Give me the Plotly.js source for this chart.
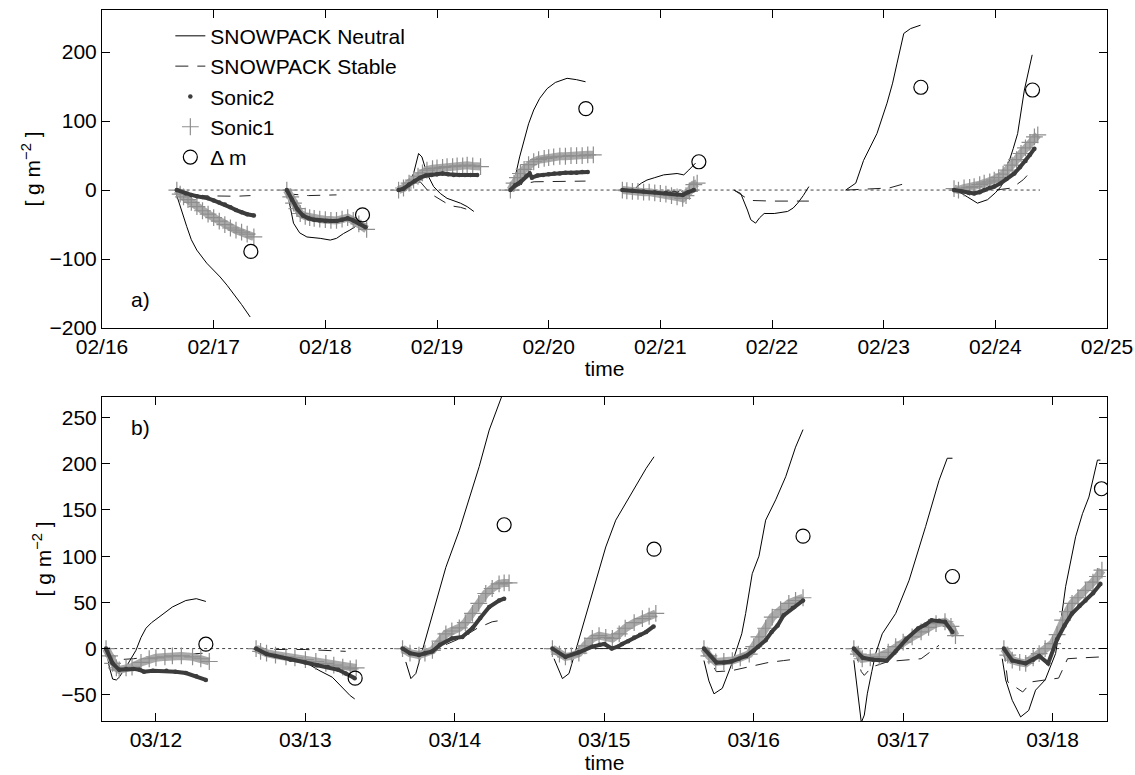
<!DOCTYPE html>
<html>
<head>
<meta charset="utf-8">
<script src="https://cdn.plot.ly/plotly-3.0.1.min.js"></script>
<style>body{margin:0;background:#fff}#chart{width:1135px;height:775px}</style>
</head>
<body>
<div id="chart"></div>
<script>
// ---------- Panel a) February (x = day of month) ----------
const ticksA = [16,17,18,19,20,21,22,23,24,25];
const tickLabelsA = ['02/16','02/17','02/18','02/19','02/20','02/21','02/22','02/23','02/24','02/25'];
const yTicksA = [-200,-100,0,100,200];

const neutralA = [
 [[16.654,0],[16.699,-24],[16.759,-53],[16.80,-72],[16.849,-87],[16.938,-106],[17.0,-116],[17.058,-126],[17.12,-138],[17.177,-150],[17.25,-166],[17.327,-184]],
 [[17.655,0],[17.685,-25],[17.715,-48],[17.77,-62],[17.835,-68],[17.954,-70],[18.044,-72.5],[18.10,-70],[18.163,-63],[18.22,-58],[18.268,-53],[18.31,-47]],
 [[18.64,0],[18.73,5],[18.79,24],[18.835,53],[18.865,48],[18.91,24],[18.97,5],[19.03,-5],[19.09,-12],[19.15,-15],[19.21,-19],[19.27,-24],[19.33,-31]],
 [[19.657,0],[19.70,19],[19.74,48],[19.777,72],[19.82,96],[19.866,116],[19.92,133],[19.986,147],[20.06,156],[20.165,162],[20.25,160],[20.33,157]],
 [[20.77,0],[20.79,5],[20.83,10],[20.88,14.5],[20.95,18],[21.03,22],[21.15,24],[21.21,22],[21.255,29],[21.315,39]],
 [[21.659,0],[21.72,-5],[21.78,-29],[21.81,-43],[21.853,-48],[21.89,-40],[21.93,-34],[22.02,-34],[22.14,-31],[22.19,-26],[22.23,-19],[22.28,-8],[22.33,5]],
 [[22.66,0],[22.75,10],[22.82,43],[22.88,62],[22.94,82],[23.03,126],[23.08,155],[23.12,184],[23.16,212],[23.18,227],[23.24,234],[23.33,239]],
 [[23.616,0],[23.68,-3],[23.75,-10],[23.84,-19],[23.93,-14],[24.0,-4],[24.05,5],[24.11,34],[24.16,60],[24.20,82],[24.26,145],[24.33,196]]
];
const stableA = [
 [[16.654,0],[16.70,-6],[16.80,-8],[17.0,-9],[17.2,-9],[17.33,-8]],
 [[17.655,0],[17.70,-6],[17.85,-8],[18.0,-8],[18.1,-7]],
 [[18.65,0],[18.78,8],[18.85,12],[18.94,-5],[19.03,-14.5],[19.12,-22.7],[19.21,-25],[19.33,-31]],
 [[19.657,0],[19.75,8],[19.87,12],[20.0,12],[20.15,12.5],[20.33,13]],
 [[20.66,0],[20.9,-1],[21.15,-2],[21.33,0]],
 [[21.66,0],[21.72,-6],[21.80,-15],[22.0,-16],[22.2,-16],[22.33,-16]],
 [[22.66,0],[22.91,2],[23.05,3],[23.18,9]],
 [[23.62,0],[23.8,-2],[23.95,-1],[24.05,1],[24.15,3],[24.25,15],[24.33,29]]
];
const sonic1A = [
 [[16.67,0],[16.70,-6],[16.73,-10],[16.77,-14],[16.80,-18],[16.85,-24],[16.90,-30],[16.95,-35],[17.0,-40],[17.05,-45],[17.10,-50],[17.15,-55],[17.20,-58],[17.25,-61],[17.30,-64],[17.36,-68]],
 [[17.655,0],[17.69,-10],[17.715,-19],[17.745,-27],[17.775,-34],[17.82,-38],[17.86,-40],[17.90,-41],[17.95,-42],[18.0,-43],[18.05,-44],[18.10,-44],[18.15,-42],[18.20,-40],[18.25,-44],[18.30,-49],[18.37,-57]],
 [[18.656,0],[18.70,3],[18.75,10],[18.79,14.5],[18.83,20],[18.87,25],[18.91,29],[18.96,31],[19.0,32],[19.05,33],[19.09,34],[19.14,34],[19.18,35],[19.23,35],[19.27,36],[19.32,35],[19.39,34]],
 [[19.657,0],[19.69,10],[19.72,18],[19.747,24],[19.78,30],[19.82,37],[19.866,41],[19.91,44],[19.96,46],[20.0,47],[20.045,48],[20.10,49],[20.15,49],[20.20,50],[20.25,50],[20.30,50],[20.35,51],[20.40,51]],
 [[20.66,0],[20.70,-1],[20.75,-2],[20.80,-2],[20.85,-3],[20.90,-3],[20.95,-4],[21.0,-5],[21.05,-6],[21.10,-8],[21.15,-10],[21.20,-12],[21.23,-8],[21.26,-2],[21.30,8],[21.33,10]],
 [[23.63,2],[23.67,0],[23.72,3],[23.77,4],[23.81,5],[23.86,8],[23.90,10],[23.95,12],[23.99,14.5],[24.03,18],[24.07,23],[24.11,29],[24.15,36],[24.19,44],[24.23,53],[24.27,61],[24.31,69],[24.35,77],[24.38,80]]
];
const sonic2A = [
 [[16.67,0],[16.75,-5],[16.80,-7],[16.85,-9],[16.90,-10],[16.95,-12],[17.0,-15],[17.05,-18],[17.10,-21],[17.15,-25],[17.20,-29],[17.25,-32],[17.30,-35],[17.36,-37]],
 [[17.655,0],[17.70,-14],[17.75,-28],[17.80,-37],[17.85,-41],[17.90,-43],[17.95,-44],[18.0,-45],[18.05,-45],[18.10,-45],[18.15,-43],[18.20,-41],[18.25,-44],[18.30,-48],[18.36,-54]],
 [[18.656,0],[18.70,2],[18.75,8],[18.80,13],[18.85,18],[18.90,21],[18.95,22],[19.0,23],[19.05,24],[19.10,23],[19.15,22],[19.20,22],[19.25,22],[19.30,22],[19.36,22]],
 [[19.657,0],[19.70,7],[19.75,12],[19.80,20],[19.83,24],[19.85,18],[19.90,21],[19.95,22],[20.0,23],[20.05,24],[20.10,24],[20.15,25],[20.20,25],[20.25,25],[20.30,26],[20.35,26]],
 [[20.66,0],[20.75,-1],[20.85,-2],[20.95,-3],[21.05,-4],[21.15,-6],[21.20,-7],[21.25,-3],[21.30,0]],
 [[23.63,0],[23.70,-2],[23.76,-4],[23.81,-5],[23.86,-3],[23.90,0],[23.95,3],[23.99,5],[24.05,10],[24.10,16],[24.17,24],[24.22,33],[24.27,42],[24.31,51],[24.35,60]]
];
const deltaA_x = [17.333,18.333,20.333,21.345,23.333,24.333];
const deltaA_y = [-89,-36,118,41,149,145];
const zeroA = [16.65,24.4];

// ---------- Panel b) March ----------
const ticksB = [12,13,14,15,16,17,18];
const tickLabelsB = ['03/12','03/13','03/14','03/15','03/16','03/17','03/18'];
const yTicksB = [-50,0,50,100,150,200,250];

const neutralB = [
 [[11.666,0],[11.688,-20],[11.71,-33],[11.735,-34],[11.754,-31],[11.80,-20],[11.866,-2],[11.90,12],[11.933,22],[11.97,28],[12.02,34],[12.11,45],[12.20,52],[12.27,54],[12.334,51]],
 [[12.646,0],[12.736,-4],[12.87,-9.4],[13.0,-14.8],[13.09,-23.5],[13.18,-31],[13.248,-42],[13.30,-51],[13.33,-54.5]],
 [[13.672,-14.5],[13.706,-32.5],[13.739,-27],[13.783,-2],[13.85,38],[13.94,88],[14.03,128],[14.096,161],[14.163,197],[14.23,236.5],[14.296,265],[14.33,280]],
 [[14.664,-11],[14.72,-32.5],[14.764,-27],[14.83,9],[14.92,59.6],[15.01,110],[15.077,139],[15.144,157],[15.19,170],[15.233,182],[15.28,195],[15.333,207.6]],
 [[15.667,-13],[15.70,-35],[15.734,-49],[15.79,-43],[15.857,-15],[15.92,16],[15.946,38],[15.99,81],[16.035,100],[16.08,139],[16.147,161],[16.214,186],[16.28,218],[16.33,237]],
 [[16.67,-12.7],[16.70,-56],[16.72,-80],[16.74,-72],[16.76,-49],[16.79,-25],[16.816,-5.4],[16.86,16],[16.95,38],[17.04,74],[17.10,105],[17.15,132],[17.24,182],[17.295,206],[17.33,206]],
 [[17.663,-11],[17.686,-34],[17.73,-56],[17.786,-74],[17.84,-67],[17.886,-45],[17.95,-34],[18.02,-5.4],[18.06,35],[18.087,67],[18.154,121],[18.20,146],[18.243,164],[18.30,204],[18.32,204]]
];
const stableB = [
 [[11.666,0],[11.75,-12],[11.85,-11],[12.0,-8],[12.2,-6],[12.33,-5]],
 [[12.646,0],[12.80,-1],[13.0,-1],[13.15,-2],[13.27,-3]],
 [[13.672,0],[13.75,-7],[13.85,-3],[13.95,5],[14.05,12],[14.15,22],[14.25,29],[14.33,31]],
 [[14.664,0],[14.74,-8],[14.85,-4],[14.95,0],[15.10,0],[15.25,0]],
 [[15.667,0],[15.72,-15],[15.75,-25],[15.85,-24],[15.97,-20],[16.10,-15],[16.20,-13],[16.30,-11]],
 [[16.67,0],[16.72,-25],[16.74,-29],[16.79,-20],[16.90,-14],[17.017,-12.7],[17.12,-11],[17.195,-2],[17.24,3.6]],
 [[17.674,0],[17.70,-36],[17.80,-47],[17.83,-42],[17.86,-36],[17.95,-34],[18.04,-32],[18.075,-20],[18.10,-11],[18.20,-10],[18.33,-9]]
];
const sonic1B = [
 [[11.666,0],[11.69,-8],[11.71,-16],[11.735,-21],[11.754,-23],[11.80,-21],[11.84,-20],[11.90,-15],[11.955,-11],[12.0,-10],[12.06,-9],[12.11,-8],[12.17,-8],[12.245,-9],[12.30,-11],[12.357,-14]],
 [[12.67,0],[12.70,-3],[12.74,-5],[12.80,-7],[12.87,-9],[12.93,-10],[13.0,-12],[13.07,-14],[13.137,-16],[13.19,-18],[13.25,-20],[13.30,-22],[13.34,-21]],
 [[13.65,0],[13.70,-5],[13.76,-7],[13.80,-5],[13.85,-2],[13.90,8],[13.94,16],[13.98,19],[14.03,22.5],[14.07,28],[14.118,38],[14.16,49],[14.207,59.6],[14.25,65],[14.296,70],[14.33,71],[14.363,71]],
 [[14.653,0],[14.70,-6],[14.74,-9],[14.78,-8],[14.83,-5],[14.87,3],[14.92,11],[14.965,14],[15.01,12],[15.054,11],[15.10,16],[15.14,22],[15.20,28],[15.255,32.5],[15.30,35],[15.345,38]],
 [[15.667,0],[15.70,-8],[15.746,-14.5],[15.80,-14],[15.857,-13],[15.91,-10],[15.97,-6],[16.0,2],[16.035,12.6],[16.08,22],[16.124,34],[16.18,42],[16.235,49],[16.28,52],[16.33,55]],
 [[16.67,0],[16.70,-6],[16.726,-11],[16.78,-10],[16.84,-9],[16.90,-4],[16.95,2],[17.0,7],[17.06,12.6],[17.12,18],[17.17,23],[17.22,27],[17.28,29],[17.32,24],[17.35,14]],
 [[17.674,0],[17.70,-7],[17.73,-12.6],[17.78,-15],[17.82,-16],[17.87,-10],[17.91,-5.4],[17.95,0],[18.0,5.4],[18.03,15],[18.067,30.7],[18.10,40],[18.13,49],[18.17,55],[18.22,63],[18.27,72],[18.30,78],[18.33,85]]
];
const sonic2B = [
 [[11.666,0],[11.71,-16],[11.754,-23],[11.80,-22],[11.85,-22],[11.89,-23],[11.92,-25],[11.98,-24],[12.07,-24],[12.13,-25],[12.20,-26.5],[12.27,-30],[12.334,-34]],
 [[12.67,0],[12.74,-6],[12.80,-8],[12.90,-12],[13.0,-15],[13.08,-18],[13.15,-20],[13.22,-23],[13.27,-27],[13.33,-32]],
 [[13.65,0],[13.70,-5],[13.76,-7],[13.80,-5],[13.85,-3],[13.90,4],[13.98,11],[14.05,12.6],[14.085,17],[14.12,22.5],[14.17,33],[14.23,45],[14.296,52],[14.33,54]],
 [[14.653,0],[14.74,-9],[14.83,-4],[14.92,2],[14.97,4],[15.0,5],[15.05,0],[15.09,2],[15.12,5],[15.16,8],[15.20,12],[15.24,15],[15.28,18],[15.33,24]],
 [[15.667,0],[15.75,-15],[15.80,-15],[15.85,-14],[15.90,-11],[15.95,-8],[16.0,-2],[16.03,2],[16.08,9],[16.12,18],[16.16,25],[16.20,36],[16.26,44],[16.33,52]],
 [[16.67,0],[16.73,-10],[16.80,-12],[16.89,-13],[16.95,-3],[17.02,10],[17.1,21.7],[17.15,26],[17.19,30.7],[17.24,30],[17.28,29],[17.33,18]],
 [[17.674,0],[17.73,-13],[17.82,-16],[17.87,-12],[17.91,-8],[17.97,-16],[18.03,10],[18.08,25],[18.13,38],[18.18,46],[18.22,52],[18.27,60],[18.32,70]]
];
const deltaB_x = [12.334,13.333,14.33,15.333,16.33,17.33,18.327];
const deltaB_y = [4.7,-32,134,107.6,121.7,78,173];
const zeroB = [11.64,18.33];

// ---------- helpers ----------
function flat(segs){
  const x=[],y=[];
  segs.forEach((s,i)=>{ if(i>0){x.push(null);y.push(null);} s.forEach(p=>{x.push(p[0]);y.push(p[1]);}); });
  return {x,y};
}
const FONT = 'Liberation Sans, Arial, Helvetica, sans-serif';
const FS = 21;
const DARK = '#3c3c3c';

function panelTraces(xa, ya, neutral, stable, s1, s2, dx, dy, legend){
  const n=flat(neutral), st=flat(stable), a=flat(s1), b=flat(s2);
  return [
    {x:n.x,y:n.y,xaxis:xa,yaxis:ya,mode:'lines',name:'SNOWPACK Neutral',line:{color:'#000',width:1},showlegend:legend,legendrank:1,legendgroup:'g1'},
    {x:st.x,y:st.y,xaxis:xa,yaxis:ya,mode:'lines',name:'SNOWPACK Stable',line:{color:'#222',width:1,dash:'13px,9px'},showlegend:legend,legendrank:2,legendgroup:'g2'},
    {x:a.x,y:a.y,xaxis:xa,yaxis:ya,mode:'lines',line:{color:'#aaaaaa',width:8},showlegend:false,hoverinfo:'skip'},
    {x:a.x,y:a.y,xaxis:xa,yaxis:ya,mode:'markers',name:'Sonic1',marker:{symbol:'cross-thin-open',size:12,color:'#8e8e8e',line:{width:1.2,color:'#8e8e8e'}},showlegend:legend,legendrank:4,legendgroup:'g4'},
    {x:b.x,y:b.y,xaxis:xa,yaxis:ya,mode:'lines',line:{color:DARK,width:4},showlegend:false,hoverinfo:'skip'},
    {x:b.x,y:b.y,xaxis:xa,yaxis:ya,mode:'markers',name:'Sonic2',marker:{symbol:'circle',size:4.5,color:DARK},showlegend:legend,legendrank:3,legendgroup:'g3'},
    {x:dx,y:dy,xaxis:xa,yaxis:ya,mode:'markers',name:'\u0394 m',marker:{symbol:'circle-open',size:14,color:'#000',line:{width:1.2,color:'#000'}},showlegend:legend,legendrank:5,legendgroup:'g5'}
  ];
}

const data = [].concat(
  panelTraces('x','y',neutralA,stableA,sonic1A,sonic2A,deltaA_x,deltaA_y,true),
  panelTraces('x2','y2',neutralB,stableB,sonic1B,sonic2B,deltaB_x,deltaB_y,false)
);

const axCommon = {showline:true,linecolor:'#000',linewidth:1,mirror:'ticks',ticks:'inside',ticklen:8,tickcolor:'#000',showgrid:false,zeroline:false,tickfont:{family:FONT,size:FS,color:'#000'}};
const yTitle = {text:'[ g m<sup>\u22122</sup> ]',font:{family:FONT,size:FS,color:'#000'},standoff:3};
const xTitle = {text:'time',font:{family:FONT,size:FS,color:'#000'},standoff:4};

const layout = {
  width:1135,height:775,
  margin:{l:102,r:28,t:10,b:54},
  paper_bgcolor:'#fff',plot_bgcolor:'#fff',
  font:{family:FONT,size:FS,color:'#000'},
  xaxis:Object.assign({},axCommon,{domain:[0,1],anchor:'y',range:[16,25],tickmode:'array',tickvals:ticksA,ticktext:tickLabelsA,title:xTitle}),
  yaxis:Object.assign({},axCommon,{domain:[0.5527,1],anchor:'x',range:[-200,261],tickmode:'array',tickvals:yTicksA,title:yTitle}),
  xaxis2:Object.assign({},axCommon,{domain:[0,1],anchor:'y2',range:[11.639,18.364],tickmode:'array',tickvals:ticksB,ticktext:tickLabelsB,title:xTitle}),
  yaxis2:Object.assign({},axCommon,{domain:[0,0.4561],anchor:'x2',range:[-78.4,272.6],tickmode:'array',tickvals:yTicksB,title:yTitle}),
  shapes:[
    {type:'line',xref:'x',yref:'y',x0:zeroA[0],x1:zeroA[1],y0:0,y1:0,line:{color:'#444',width:1,dash:'dot'},layer:'below'},
    {type:'line',xref:'x2',yref:'y2',x0:zeroB[0],x1:zeroB[1],y0:0,y1:0,line:{color:'#444',width:1,dash:'dot'},layer:'below'}
  ],
  annotations:[
    {text:'a)',xref:'x domain',yref:'y domain',x:0.027,y:0.09,xanchor:'left',yanchor:'middle',showarrow:false,font:{family:FONT,size:FS,color:'#000'}},
    {text:'b)',xref:'x2 domain',yref:'y2 domain',x:0.027,y:0.905,xanchor:'left',yanchor:'middle',showarrow:false,font:{family:FONT,size:FS,color:'#000'}}
  ],
  legend:{x:0.068,y:0.992,xanchor:'left',yanchor:'top',bgcolor:'rgba(0,0,0,0)',borderwidth:0,font:{family:FONT,size:FS,color:'#000'},tracegroupgap:3,traceorder:'normal'},
  showlegend:true
};

Plotly.newPlot('chart',data,layout,{displayModeBar:false,staticPlot:true});
</script>
</body>
</html>
